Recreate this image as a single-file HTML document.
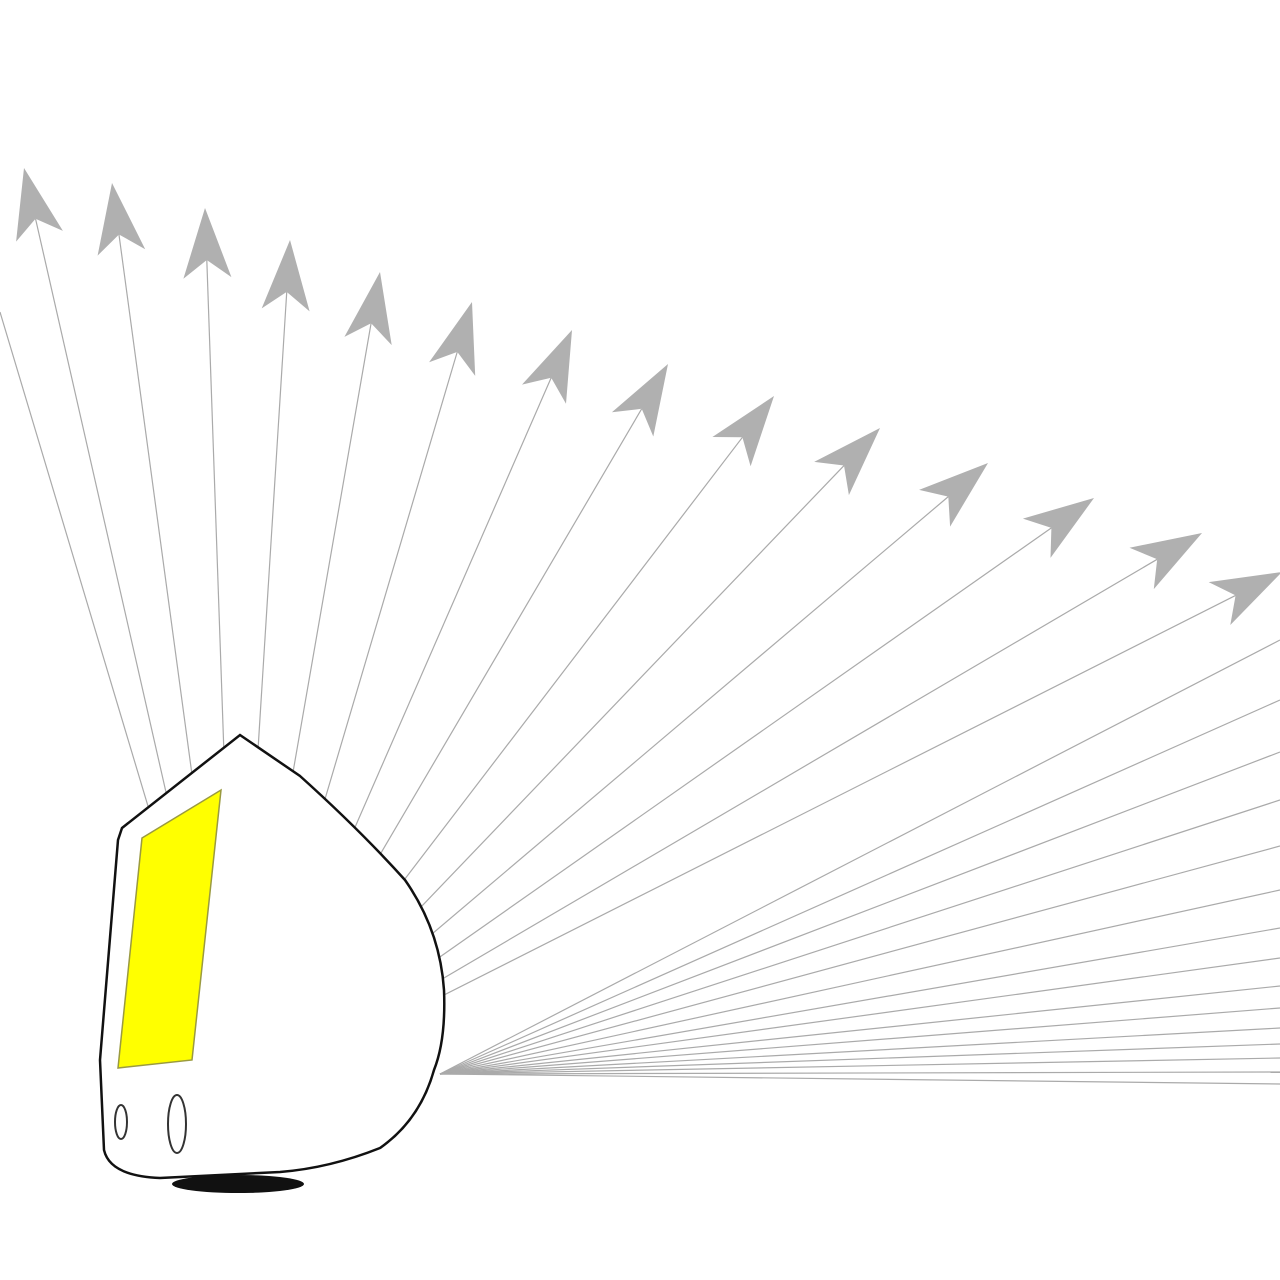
<!DOCTYPE html>
<html><head><meta charset="utf-8"><style>
html,body{margin:0;padding:0;background:#fff;width:1280px;height:1280px;overflow:hidden}
</style></head><body>
<svg id="art" width="1280" height="1280" viewBox="0 0 1280 1280" xmlns="http://www.w3.org/2000/svg">
<rect width="1280" height="1280" fill="#fff"/>
<g id="rays"></g>
<g id="computer">
<ellipse cx="238" cy="1184" rx="66" ry="9" fill="#111"/>
<path d="M122,828 L240,735 L300,776 Q360,830 405,880 Q440,930 444,990 Q446,1040 434,1070 Q420,1120 380,1148 Q330,1168 280,1172 L160,1178 Q110,1176 104,1150 L100,1060 L118,840 Z" fill="#fff" stroke="#111" stroke-width="2.5"/>
<polygon points="142,838 221,790 192,1060 118,1068" fill="#ffff00" stroke="#9a9a40" stroke-width="1.5"/>
<ellipse cx="121" cy="1122" rx="6" ry="17" fill="none" stroke="#333" stroke-width="2"/>
<ellipse cx="177" cy="1124" rx="9" ry="29" fill="none" stroke="#333" stroke-width="2"/>
</g>
</svg>
<script>
const arrowTips = [[24,168],[112,183],[205,208],[290,240],[380,272],[472,302],[572,330],[668,364],[774,396],[880,428],[988,463],[1094,498],[1202,533],[1282,572]];
const edgeYs = [640,700,752,800,846,890,928,958,986,1008,1028,1044,1058,1072,1084];
const originA = [236,1100];
const originB = [440,1074];
const g = document.getElementById('rays');
const NS = 'http://www.w3.org/2000/svg';
function line(x1,y1,x2,y2){
  const l = document.createElementNS(NS,'line');
  
  
  l.setAttribute('x1',x1);l.setAttribute('y1',y1);l.setAttribute('x2',x2);l.setAttribute('y2',y2);
  l.setAttribute('stroke','#aaa');l.setAttribute('stroke-width','1.2');
  g.appendChild(l);
}
line(0,312,originA[0],originA[1]);
arrowTips.forEach(t=>{
  const dx=t[0]-originA[0], dy=t[1]-originA[1];
  const L=Math.hypot(dx,dy), ux=dx/L, uy=dy/L, px=-uy, py=ux;
  const len=70, w=24, notch=52;
  const bx=t[0]-ux*len, by=t[1]-uy*len;
  line(originA[0],originA[1],t[0]-ux*notch,t[1]-uy*notch);
  const p = document.createElementNS(NS,'polygon');
  
  
  const pts=[[t[0],t[1]],[bx+px*w,by+py*w],[t[0]-ux*notch,t[1]-uy*notch],[bx-px*w,by-py*w]];
  p.setAttribute('points',pts.map(q=>q[0].toFixed(1)+','+q[1].toFixed(1)).join(' '));
  p.setAttribute('fill','#b0b0b0');
  g.appendChild(p);
});
edgeYs.forEach(y=>line(originB[0],originB[1],1280,y));
</script>
</body></html>
